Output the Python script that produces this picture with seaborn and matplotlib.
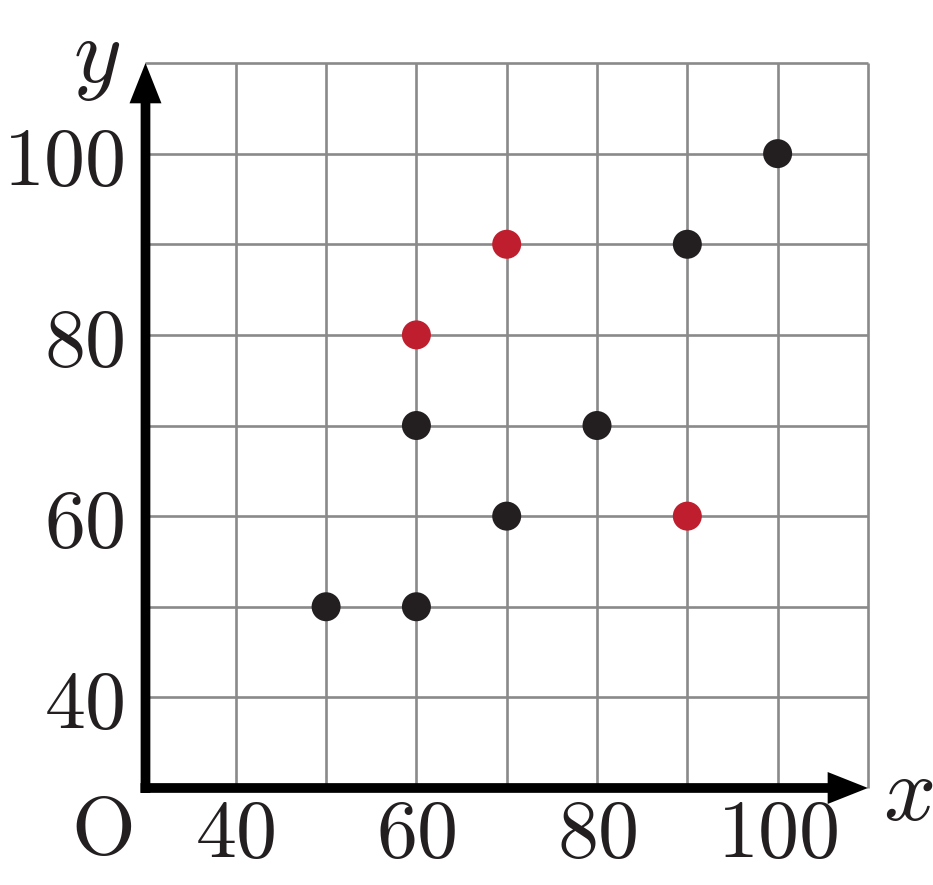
import matplotlib
matplotlib.use("Agg")
import matplotlib.pyplot as plt
import seaborn as sns
import pandas as pd

# points
black_x = [50, 60, 60, 70, 80, 90, 100]
black_y = [50, 50, 70, 60, 70, 90, 100]
red_x = [60, 70, 90]
red_y = [80, 90, 60]

grid_ticks = [40, 50, 60, 70, 80, 90, 100, 110]
label_ticks = [40, 60, 80, 100]
tick_labels = ["$40$", "$60$", "$80$", "$100$"]

df = pd.DataFrame({
    "x": black_x + red_x,
    "y": black_y + red_y,
    "group": ["black"] * len(black_x) + ["red"] * len(red_x),
})

sns.set_style("white")
plt.rcParams["mathtext.fontset"] = "cm"

fig = plt.figure(figsize=(9.33, 8.85), dpi=100)
ax = fig.add_axes([0.1511, 0.1045, 0.784, 0.8294])

ax.set_xlim(29.5, 110.5)
ax.set_ylim(29.5, 110.5)

# grid lines stop at the last grid value
ax.vlines(grid_ticks, 30, 110, color="#8a8a8a", linewidth=1.9, zorder=1)
ax.hlines(grid_ticks, 30, 110, color="#8a8a8a", linewidth=1.9, zorder=1)

ax.set_xticks(label_ticks)
ax.set_yticks(label_ticks)
ax.set_xticklabels(tick_labels, fontsize=59, color="#231f20")
ax.set_yticklabels(tick_labels, fontsize=59, color="#231f20")
ax.tick_params(which="both", length=0)
ax.tick_params(axis="x", pad=2)
ax.tick_params(axis="y", pad=12)
ax.grid(False)
for s in ax.spines.values():
    s.set_visible(False)

sns.scatterplot(data=df, x="x", y="y", hue="group",
                palette={"black": "#231f20", "red": "#be1e2d"},
                s=436, edgecolor="none", legend=False, ax=ax, zorder=5)
ax.set_xlabel("")
ax.set_ylabel("")

# thick axes with arrow heads
arrow = dict(width=7, headwidth=23, headlength=29, shrink=0,
             facecolor="black", edgecolor="none")
ax.annotate("", xy=(110, 30), xytext=(29.45, 30), arrowprops=arrow,
            annotation_clip=False)
ax.annotate("", xy=(30, 110), xytext=(30, 29.45), arrowprops=arrow,
            annotation_clip=False)

ax.text(114.4, 29.3, "$x$", fontsize=66, ha="center", va="center", color="#231f20")
ax.text(24.6, 110.6, "$y$", fontsize=66, ha="center", va="center", color="#231f20")
ax.text(25.1, 25.2, r"$\mathrm{O}$", fontsize=59, ha="center", va="center",
        color="#231f20")

fig.savefig("out.png", dpi=100)
